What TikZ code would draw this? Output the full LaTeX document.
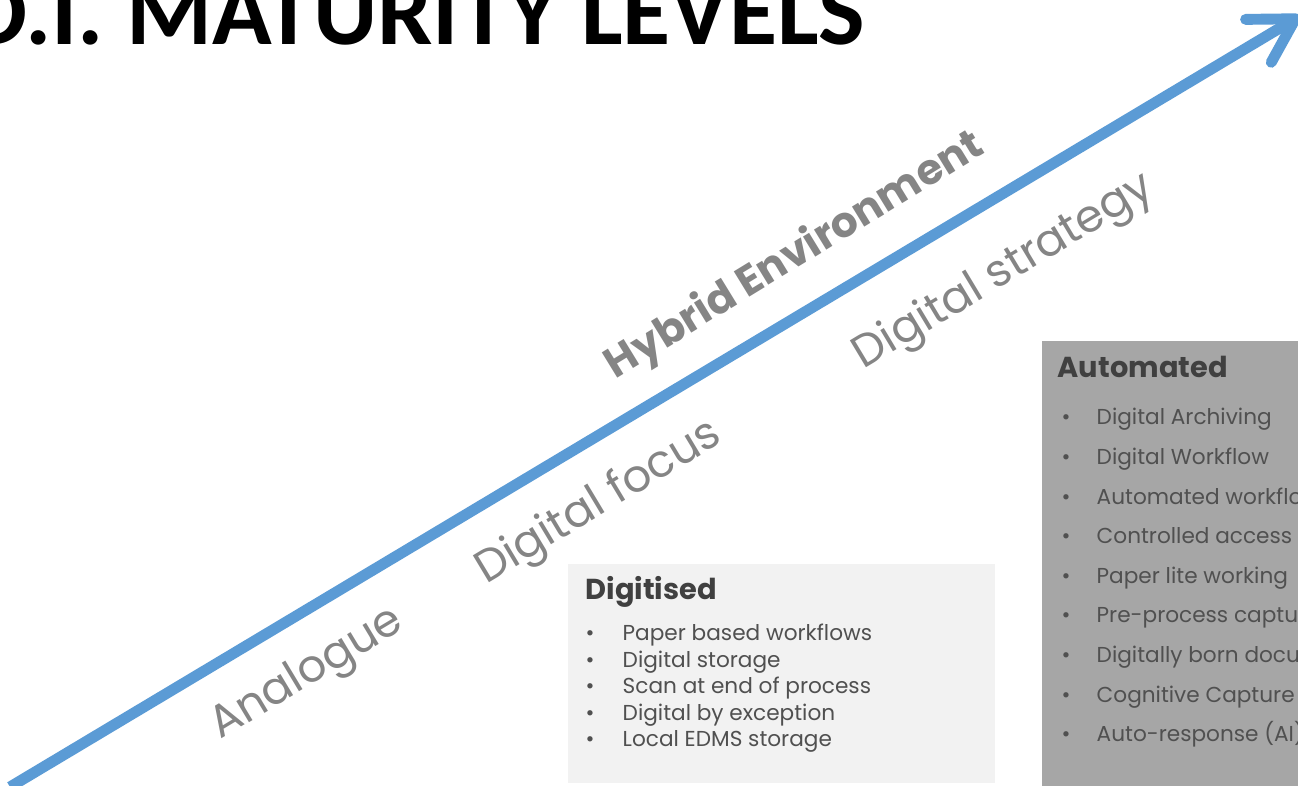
\documentclass[tikz,border=0pt]{standalone}
\usepackage{fontspec}
\setmainfont{Poppins}
\newfontfamily\titlefont{Carlito}
\usetikzlibrary{arrows.meta}
\definecolor{arrowblue}{HTML}{5B9BD5}
\definecolor{labelgray}{HTML}{858585}
\definecolor{lightbox}{HTML}{F2F2F2}
\definecolor{darkbox}{HTML}{A6A6A6}
\definecolor{boxtext}{HTML}{404040}
\definecolor{itemtext}{HTML}{505050}

\begin{document}
\begin{tikzpicture}[x=0.01cm,y=-0.01cm,inner sep=0pt,
  stage/.style={text=labelgray,rotate=31,anchor=base,font=\fontsize{12.8}{15}\selectfont},
  boxhead/.style={text=boxtext,anchor=base west,font=\bfseries\fontsize{8.2}{10}\selectfont},
  boxitem/.style={text=itemtext,anchor=base west,font=\fontsize{6.15}{8}\selectfont},
  boxdot/.style={text=itemtext,anchor=base,font=\fontsize{6.15}{8}\selectfont}]
\useasboundingbox (0,0) rectangle (1298,786);

\node[anchor=base east,font=\titlefont\bfseries\fontsize{28}{31}\selectfont] (title) at (866,45) {D.I. MATURITY LEVELS};

\coordinate (start) at (10,787);
\coordinate (tip) at (1300,16);
\draw[arrowblue,line width=3.1pt,-{Straight Barb[length=0.43cm,width=0.5cm,round]}] (start) -- (tip);

\node[stage] (analogue) at (313,684) {Analogue};
\node[stage] (focus) at (605,513) {Digital focus};
\node[stage] (strategy) at (1010,282) {Digital strategy};
\node[stage,rotate=0.5,font=\bfseries\fontsize{12}{14}\selectfont] (hybrid) at (801,266) {Hybrid Environment};

\node[fill=lightbox,minimum width=4.27cm,minimum height=2.19cm,anchor=north west] (digbox) at (567,563) {};
\node[boxhead] (dighead) at (585,600) {Digitised};
\foreach \txt [count=\i from 0] in {Paper based workflows,Digital storage,Scan at end of process,Digital by exception,Local EDMS storage} {
  \node[boxdot] (digdot\i) at (590,640.5+26.5*\i) {\textbullet};
  \node[boxitem] (dig\i) at (622,640.5+26.5*\i) {\txt};
}

\node[fill=darkbox,minimum width=3cm,minimum height=4.6cm,anchor=north west] (autobox) at (1041,340) {};
\node[boxhead] (autohead) at (1057,378) {Automated};
\foreach \txt [count=\i from 0] in {Digital Archiving,Digital Workflow,Automated workflow,Controlled access,Paper lite working,Pre-process capture,Digitally born documents,Cognitive Capture,Auto-response (AI)} {
  \node[boxdot] (autodot\i) at (1066,425+39.6*\i) {\textbullet};
  \node[boxitem] (auto\i) at (1096,425+39.6*\i) {\txt};
}
\end{tikzpicture}
\end{document}
